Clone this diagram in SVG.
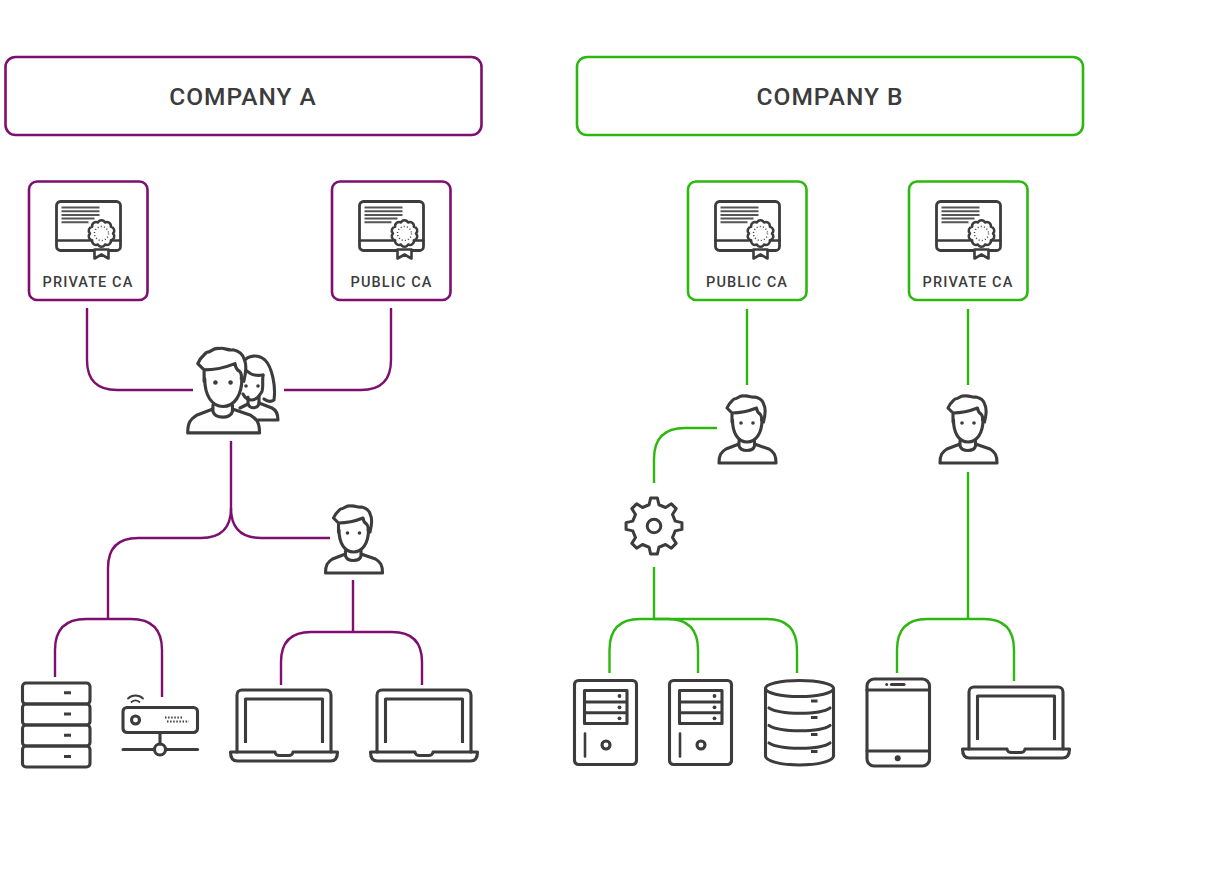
<svg xmlns="http://www.w3.org/2000/svg" width="1220" height="874" viewBox="0 0 1220 874">
<style>
.a{stroke:#7f0f6e}.b{stroke:#2cb80f}
.box{fill:#fff;stroke-width:2.6}
.con path{fill:none;stroke-width:2.4}
.ic{fill:none;stroke:#3c3c3c;stroke-width:3.1;stroke-linecap:round;stroke-linejoin:round}
.pf{fill:#fff}
.dot{fill:#3c3c3c;stroke:none}
.t1{font-family:Roboto,"Liberation Sans",sans-serif;font-size:24.5px;font-weight:500;letter-spacing:1px;fill:#3c3c3c;text-anchor:middle}
.t2{font-family:Roboto,"Liberation Sans",sans-serif;font-size:14.5px;font-weight:500;letter-spacing:1.1px;fill:#3c3c3c;text-anchor:middle}
</style>
<defs>
<g id="cert">
<path d="M0,4 a4,4 0 0 1 4,-4 H60 a4,4 0 0 1 4,4 V45 a4,4 0 0 1 -4,4 H4 a4,4 0 0 1 -4,-4 Z" stroke-width="2.800"/>
<path d="M0,39 H64" stroke-width="2.400"/>
<path d="M5,6 H43 M5,9.700 H43 M5,13.400 H43 M5,17 H38 M5,20.700 H32" stroke-width="2" stroke-linecap="butt" stroke="#555"/>
<path class="pf" d="M38,48 V57 L45,53 L52,57 V48 Z" stroke-width="2.600"/>
<path class="pf" transform="translate(45,32) scale(1.050)" d="M11,0 A3.800,3.800 0 0 1 8.900,6.470 A3.800,3.800 0 0 1 3.400,10.460 A3.800,3.800 0 0 1 -3.400,10.460 A3.800,3.800 0 0 1 -8.900,6.470 A3.800,3.800 0 0 1 -11,0 A3.800,3.800 0 0 1 -8.900,-6.470 A3.800,3.800 0 0 1 -3.400,-10.460 A3.800,3.800 0 0 1 3.400,-10.460 A3.800,3.800 0 0 1 8.900,-6.470 A3.800,3.800 0 0 1 11,0 Z" stroke-width="2.400"/>
<circle cx="45" cy="32" r="7" stroke-width="1.500" stroke-dasharray="1 2.200" stroke-linecap="butt"/>
</g>
<g id="person">
<path class="pf" d="M-8,48 L-21,53 C-26,56 -28,59 -28,67 H29 C29,59 27,56 22,53 L7.500,48 Z"/>
<path class="pf" d="M-8,45 V50 C-6,56 6,56 7.500,50 V45"/>
<path class="pf" d="M-14.500,20 V26 C-14.500,37 -9,46 0,46 C9,46 15,37 15,26 V20 Z" style="stroke:none"/>
<path d="M-14.500,24 C-14.500,37 -9,46 0,46 C9,46 15,37 15,24"/>
<path class="pf" d="M-15,26 V17 L-20,12 C-18,7 -15,5 -13,3 C-9,3 -8,-1 -3,0 C1,-1 4,2 8,1 C13,2 16,5 17,9 C19,13 18,20 16.500,26 L14.500,24 C15,21 14,19 13,18 C11,17 10,15 9.500,12 C2,15 -8,17 -15,17"/>
<circle class="dot" cx="-6" cy="27" r="1.800"/><circle class="dot" cx="6" cy="27" r="1.800"/>
</g>
<g id="laptop">
<path d="M7,62 V5 a5,5 0 0 1 5,-5 H96 a5,5 0 0 1 5,5 V62"/>
<path d="M15.500,53 V9 H92.500 V53" stroke-linecap="butt"/>
<path d="M0.500,62 H45 C45.500,65 46.500,65.500 49.500,65.500 H58.500 C61.500,65.500 62.500,65 63,62 H107.500 C107.500,68 105.500,71 100.500,71 H7.500 C2.500,71 0.500,68 0.500,62 Z"/>
</g>
<g id="tower">
<rect x="0" y="0" width="62" height="84" rx="4"/>
<path d="M10,10 H52.500 V43 H10 Z M10,21.500 H52.500 M10,32.300 H52.500" stroke-linecap="butt"/>
<circle class="dot" cx="45" cy="15.500" r="1.900"/><circle class="dot" cx="45" cy="26.800" r="1.900"/><circle class="dot" cx="45" cy="37.800" r="1.900"/>
<path d="M10.500,53 V76" stroke-width="2.600"/>
<circle cx="31.500" cy="64.500" r="4"/>
</g>
</defs>

<g id="connectors" class="con">
<g class="a">
<path d="M87,308 V360 Q87,390 117,390 H193"/>
<path d="M284,390 H361 Q391,390 391,360 V308"/>
<path d="M231,441 V508 Q231,538 201,538 H138 Q108,538 108,568 V618"/>
<path d="M231,508 Q231,538 261,538 H330"/>
<path d="M55,677 V650 Q55,619 86,619 H131 Q162,619 162,650 V697"/>
<path d="M353,580 V632"/>
<path d="M281,685 V662 Q281,632 311,632 H392 Q422,632 422,662 V685"/>
</g>
<g class="b">
<path d="M747,309 V385"/>
<path d="M968,309 V385"/>
<path d="M717,428 H685 Q654,428 654,459 V483"/>
<path d="M654,567 V619"/>
<path d="M609.500,673 V650 Q609.500,619 640,619 H668 Q698,619 698,650 V673"/>
<path d="M654,619 H767 Q797,619 797,650 V673"/>
<path d="M968,472 V619"/>
<path d="M897,673 V650 Q897,619 927,619 H984 Q1014,619 1014,650 V681"/>
</g>
</g>

<g id="company-a"><rect class="box a" x="5.500" y="57" width="476" height="78" rx="10"/><text class="t1" x="243" y="105">COMPANY A</text></g>
<g id="company-b"><rect class="box b" x="577" y="57" width="506" height="78" rx="10"/><text class="t1" x="830" y="105">COMPANY B</text></g>

<g id="a-private-ca"><rect class="box a" x="29" y="181.500" width="118.500" height="118.500" rx="8"/><use class="ic" href="#cert" x="56.500" y="201.500"/><text class="t2" x="88" y="287">PRIVATE CA</text></g>
<g id="a-public-ca"><rect class="box a" x="332" y="181.500" width="118.500" height="118.500" rx="8"/><use class="ic" href="#cert" x="359.500" y="201.500"/><text class="t2" x="391.500" y="287">PUBLIC CA</text></g>
<g id="b-public-ca"><rect class="box b" x="688" y="181.500" width="118.500" height="118.500" rx="8"/><use class="ic" href="#cert" x="715.500" y="201.500"/><text class="t2" x="747" y="287">PUBLIC CA</text></g>
<g id="b-private-ca"><rect class="box b" x="909" y="181.500" width="118.500" height="118.500" rx="8"/><use class="ic" href="#cert" x="936.500" y="201.500"/><text class="t2" x="968" y="287">PRIVATE CA</text></g>

<g id="a-users" class="ic">
<path d="M240,408 L248,404 M259,403 L272,408 C276,410 278,413 278,420 H258"/>
<path d="M248,397 V404 C250,409 257,409 259,404 V397"/>
<path d="M243,362 C248,355 258,354 265,360 C272,367 276,386 274,400 C271,402 268,402 264,399"/>
<path d="M263,375 C262,383 264,390 261,393 C258,398 255,400 252,400 C248,400 245,398 243,394"/>
<path d="M263,375 C257,376 251,375 247,371"/>
<circle class="dot" cx="246" cy="386" r="1.800"/><circle class="dot" cx="258" cy="386" r="1.800"/>
<use href="#person" transform="translate(223,348.500) scale(1.260)" stroke-width="2.500"/>
</g>
<g id="a-user" class="ic"><use href="#person" x="353.500" y="506"/></g>
<g id="b-user-1" class="ic"><use href="#person" x="747" y="396"/></g>
<g id="b-user-2" class="ic"><use href="#person" x="968" y="396"/></g>

<g id="a-server" class="ic">
<rect x="22.500" y="683" width="67.500" height="21" rx="3.500"/><rect x="22.500" y="704" width="67.500" height="21" rx="3.500"/><rect x="22.500" y="725" width="67.500" height="21" rx="3.500"/><rect x="22.500" y="746" width="67.500" height="21" rx="3.500"/>
<path d="M64,692.800 H71 M64,714 H71 M64,735.300 H71 M64,756.500 H71" stroke-linecap="butt"/>
</g>
<g id="a-router" class="ic">
<rect x="123" y="707.500" width="74.500" height="25" rx="4"/>
<circle cx="135.500" cy="720" r="4"/>
<path d="M165,717.500 H183 M167,721.500 H189" stroke-width="1.800" stroke-dasharray="1.500 1.600" stroke-linecap="butt"/>
<path d="M128,698.500 C132,694.500 139,694.500 143,698.500 M131.500,702 C134,700 137,700 139.500,702" stroke-width="1.800"/>
<path d="M160,732.500 V744 M123,749.500 H154.500 M165.500,749.500 H197.500"/>
<circle cx="160" cy="749.500" r="5.500"/>
</g>
<g id="a-laptop-1" class="ic"><use href="#laptop" x="230" y="690"/></g>
<g id="a-laptop-2" class="ic"><use href="#laptop" x="370" y="690"/></g>

<g id="b-gear" class="ic" transform="translate(654,526) scale(0.970)">
<path d="M-5.060,-21.900 L-3.500,-28.800 L3.500,-28.800 L5.060,-21.900 L11.910,-19.060 L17.890,-22.840 L22.840,-17.890 L19.060,-11.910 L21.900,-5.060 L28.800,-3.500 L28.800,3.500 L21.900,5.060 L19.060,11.910 L22.840,17.890 L17.890,22.840 L11.910,19.060 L5.060,21.900 L3.500,28.800 L-3.500,28.800 L-5.060,21.900 L-11.910,19.060 L-17.890,22.840 L-22.840,17.890 L-19.060,11.910 L-21.900,5.060 L-28.800,3.500 L-28.800,-3.500 L-21.900,-5.060 L-19.060,-11.910 L-22.840,-17.890 L-17.890,-22.840 L-11.910,-19.060 Z"/>
<circle r="7"/>
</g>
<g id="b-tower-1" class="ic"><use href="#tower" x="574.500" y="680.500"/></g>
<g id="b-tower-2" class="ic"><use href="#tower" x="669.500" y="680.500"/></g>
<g id="b-database" class="ic">
<ellipse cx="799.500" cy="688.500" rx="34" ry="8"/>
<path d="M765.500,688.500 V756 C765.500,761 781,765 799.500,765 C818,765 833.500,761 833.500,756 V688.500"/>
<path d="M769,708 C780,715 820,715 830,708 M769,725.500 C780,732.500 820,732.500 830,725.500 M769,743 C780,750 820,750 830,743"/>
<path d="M811,701 H817.500 M811,717.500 H817.500 M811,734.500 H817.500 M811,751.500 H817.500" stroke-linecap="butt"/>
</g>
<g id="b-tablet" class="ic">
<rect x="867" y="679" width="62.500" height="87" rx="7"/>
<path d="M867,690 H929.500 M867,751 H929.500"/>
<path d="M891.500,684.500 H904"/>
<circle class="dot" cx="886.700" cy="684.500" r="1.500"/><circle class="dot" cx="897.700" cy="758.300" r="3"/>
</g>
<g id="b-laptop" class="ic"><use href="#laptop" x="962" y="687"/></g>
</svg>
